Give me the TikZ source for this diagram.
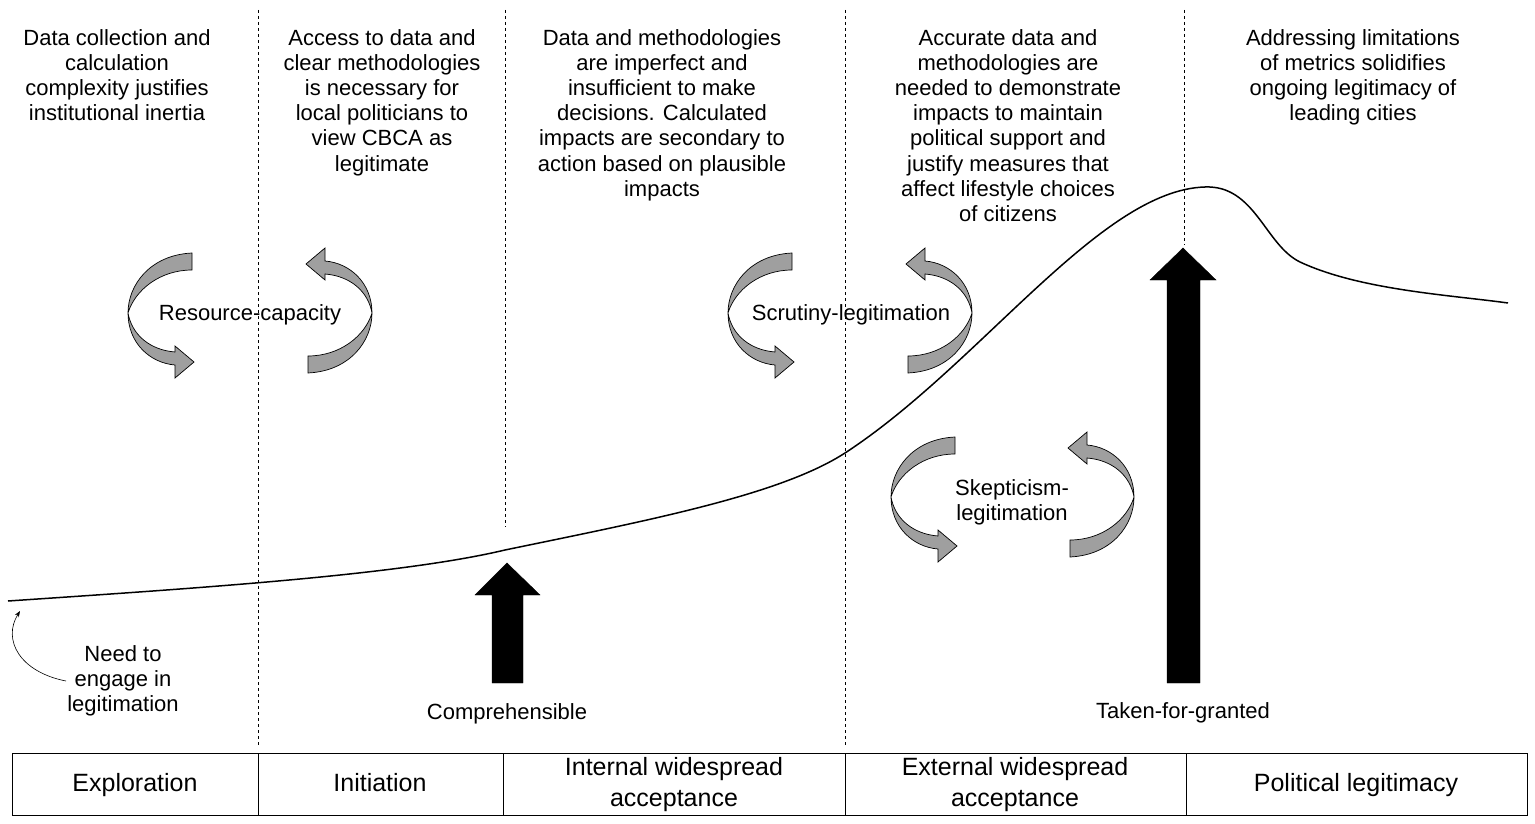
\documentclass[tikz,border=0pt]{standalone}
\usepackage{fontspec}
\setmainfont{Liberation Sans}
\usetikzlibrary{arrows.meta}
\begin{document}
\begin{tikzpicture}[x=1pt,y=-1pt,
  txt/.style={align=center,font=\fontsize{22}{25.2}\selectfont,inner sep=0pt},
  btxt/.style={align=center,font=\fontsize{25}{31}\selectfont,inner sep=0pt,text height=18pt,text depth=5pt},
  vline/.style={dashed,line width=0.8pt},
  bigarrow/.style={fill=black,draw=black},
  ribbon/.pic={
    \draw[fill=gray!75,line width=0.7pt]
      (32,-60) .. controls (-10,-58) and (-32,-28) .. (-32,0)
      .. controls (-32,30) and (-10,50) .. (15,52)
      -- (15,65) -- (34,49) -- (15,33) -- (15,39)
      .. controls (-10,37) and (-28,22) .. (-32,0)
      .. controls (-25,-23) and (0,-43) .. (32,-43) -- cycle;
  }]
\useasboundingbox (0,0) rectangle (1535,824);
% dashed lines
\coordinate (d1t) at (258,10); \coordinate (d1b) at (258,745);
\coordinate (d2t) at (505,10); \coordinate (d2b) at (505,527);
\coordinate (d3t) at (845,10); \coordinate (d3b) at (845,745);
\coordinate (d4t) at (1184,10); \coordinate (d4b) at (1184,245);
\draw[vline] (d1t)--(d1b); \draw[vline] (d2t)--(d2b);
\draw[vline] (d3t)--(d3b); \draw[vline] (d4t)--(d4b);
% curve
\draw[line width=1.5pt] (8,601) .. controls (200,588) and (400,575) .. (505,550)
  .. controls (650,520) and (780,495) .. (845,453)
  .. controls (980,365) and (1100,190) .. (1205,187)
  .. controls (1255,185) and (1265,245) .. (1300,262)
  .. controls (1360,290) and (1450,295) .. (1508,303);
% ribbons
\pic at (160,313) {ribbon};
\pic[rotate=180] at (340,313) {ribbon};
\pic at (760,313) {ribbon};
\pic[rotate=180] at (940,313) {ribbon};
\pic at (923,497) {ribbon};
\pic[rotate=180] at (1102,497) {ribbon};
% big arrows
\draw[bigarrow] (492,683) -- (492,595) -- (475,595) -- (507,563) -- (540,595) -- (523,595) -- (523,683) -- cycle;
\draw[bigarrow] (1167,683) -- (1167,280) -- (1150,280) -- (1183,248) -- (1216,280) -- (1200,280) -- (1200,683) -- cycle;
% top texts
\node[txt,anchor=north] (t1) at (117,29) {Data collection and\\calculation\\complexity justifies\\institutional inertia};
\node[txt,anchor=north] (t2) at (382,29) {Access to data and\\clear methodologies\\is necessary for\\local politicians to\\view CBCA as\\legitimate};
\node[txt,anchor=north] (t3) at (662,29) {Data and methodologies\\are imperfect and\\insufficient to make\\decisions. Calculated\\impacts are secondary to\\action based on plausible\\impacts};
\node[txt,anchor=north] (t4) at (1008,29) {Accurate data and\\methodologies are\\needed to demonstrate\\impacts to maintain\\political support and\\justify measures that\\affect lifestyle choices\\of citizens};
\node[txt,anchor=north] (t5) at (1353,29) {Addressing limitations\\of metrics solidifies\\ongoing legitimacy of\\leading cities};
% labels
\node[txt] (rc) at (250,315) {Resource-capacity};
\node[txt] (sl) at (851,315) {Scrutiny-legitimation};
\node[txt] (skl) at (1012,502) {Skepticism-\\legitimation};
\node[txt] (need) at (123,681) {Need to\\engage in\\legitimation};
\node[txt] (comp) at (507,714) {Comprehensible};
\node[txt] (tfg) at (1183,713) {Taken-for-granted};
\coordinate (ns) at (66,681);
\coordinate (ne) at (20,611);
\draw[-{Stealth[length=6pt]},line width=0.6pt] (ns) .. controls (20,672) and (2,640) .. (ne);
% bottom boxes
\foreach \a/\b/\n in {12/258/b1,258/503/b2,503/845/b3,845/1186/b4,1186/1527/b5}
  \draw[line width=0.8pt] (\a,753) rectangle (\b,815);
\node[btxt] (e1) at (135,785) {Exploration};
\node[btxt] (e2) at (380,785) {Initiation};
\node[txt,font=\fontsize{25}{31}\selectfont] (e3) at (674,785) {Internal widespread\\acceptance};
\node[txt,font=\fontsize{25}{31}\selectfont] (e4) at (1015,785) {External widespread\\acceptance};
\node[btxt] (e5) at (1356,785) {Political legitimacy};
\end{tikzpicture}
\end{document}
